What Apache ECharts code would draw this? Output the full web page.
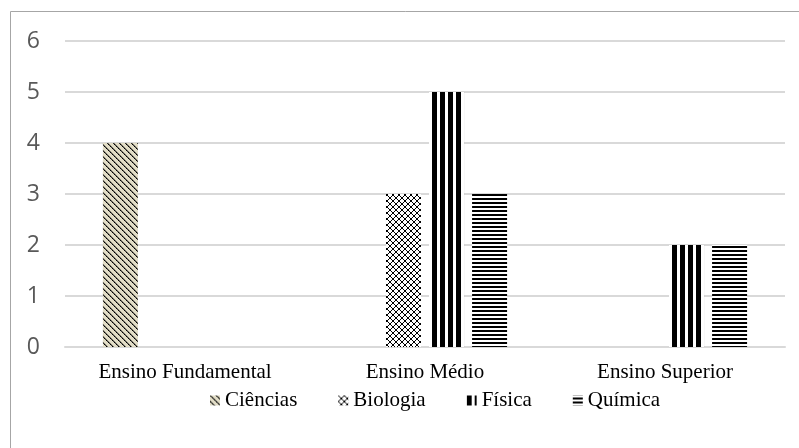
<!DOCTYPE html>
<html>
<head>
<meta charset="utf-8">
<script src="https://cdn.jsdelivr.net/npm/echarts@6/dist/echarts.min.js"></script>
<style>html,body{margin:0;padding:0;background:#fff;}#c{width:799px;height:448px;}</style>
</head>
<body>
<div id="c"></div>
<script>
const categories = ['Ensino Fundamental', 'Ensino Médio', 'Ensino Superior'];
const seriesNames = ['Ciências', 'Biologia', 'Física', 'Química'];
const ciencias = [4, 0, 0];
const biologia = [0, 3, 0];
const fisica = [0, 5, 2];
const quimica = [0, 3, 2];
const yTicks = [0, 1, 2, 3, 4, 5, 6];

function tile(w, h, draw) {
  const c = document.createElement('canvas');
  c.width = w; c.height = h;
  const g = c.getContext('2d');
  draw(g, w, h);
  return c;
}
// Ciências: beige with dotted diagonal "\" lines
const patCiencias = tile(6, 6, (g, w, h) => {
  g.fillStyle = '#e2ddc6'; g.fillRect(0, 0, w, h);
  for (let y = 0; y < h; y++) {
    const x = y % w;
    g.fillStyle = (y % 2 === 0) ? '#000' : '#333';
    g.fillRect(x, y, 1, 1);
    g.fillStyle = '#7a776a';
    g.fillRect((x + 1) % w, y, 1, 1);
  }
});
// Biologia: lattice of crosses
const patBiologia = tile(6, 6, (g, w, h) => {
  g.fillStyle = '#fff'; g.fillRect(0, 0, w, h);
  g.fillStyle = '#000';
  for (let i = 0; i < 6; i++) {
    g.fillRect(i, i, 1, 1);
    g.fillRect(5 - i, i, 1, 1);
  }
});
// Física: wide vertical stripes
const patFisica = tile(8, 8, (g, w, h) => {
  g.fillStyle = '#fff'; g.fillRect(0, 0, w, h);
  g.fillStyle = '#000'; g.fillRect(0, 0, 5, h);
});
// Química: narrow horizontal stripes
const patQuimica = tile(4, 4, (g, w, h) => {
  g.fillStyle = '#fff'; g.fillRect(0, 0, w, h);
  g.fillStyle = '#000'; g.fillRect(0, 2, w, 2);
});
const patterns = [patCiencias, patBiologia, patFisica, patQuimica];
const values = [ciencias, biologia, fisica, quimica];

const chart = echarts.init(document.getElementById('c'), null, {renderer: 'canvas'});
chart.setOption({
  animation: false,
  backgroundColor: '#fff',
  graphic: [{
    type: 'rect', silent: true,
    shape: {x: 10.5, y: 11.5, width: 820, height: 470},
    style: {fill: 'none', stroke: '#a6a6a6', lineWidth: 1}
  }],
  grid: {left: 65, right: 14, top: 41, bottom: 101},
  legend: {
    data: seriesNames,
    left: 205, top: 385,
    itemWidth: 10, itemHeight: 10, itemGap: 41,
    icon: 'rect',
    textStyle: {fontFamily: 'Liberation Serif', fontSize: 21, color: '#000'}
  },
  xAxis: {
    type: 'category', data: categories,
    axisLine: {lineStyle: {color: '#d9d9d9', width: 2}},
    axisTick: {show: false},
    axisLabel: {fontFamily: 'Liberation Serif', fontSize: 21, color: '#000', margin: 15}
  },
  yAxis: {
    type: 'value', min: yTicks[0], max: yTicks[yTicks.length - 1], interval: 1,
    axisLine: {show: false}, axisTick: {show: false},
    splitLine: {lineStyle: {color: '#d9d9d9', width: 2}},
    axisLabel: {fontFamily: 'Open Sans', fontSize: 23, color: '#595959', margin: 25}
  },
  series: seriesNames.map((n, i) => ({
    name: n, type: 'bar', data: values[i],
    barWidth: 35, barGap: '23%',
    itemStyle: {color: {image: patterns[i], repeat: 'repeat'}}
  }))
});
</script>
</body>
</html>
